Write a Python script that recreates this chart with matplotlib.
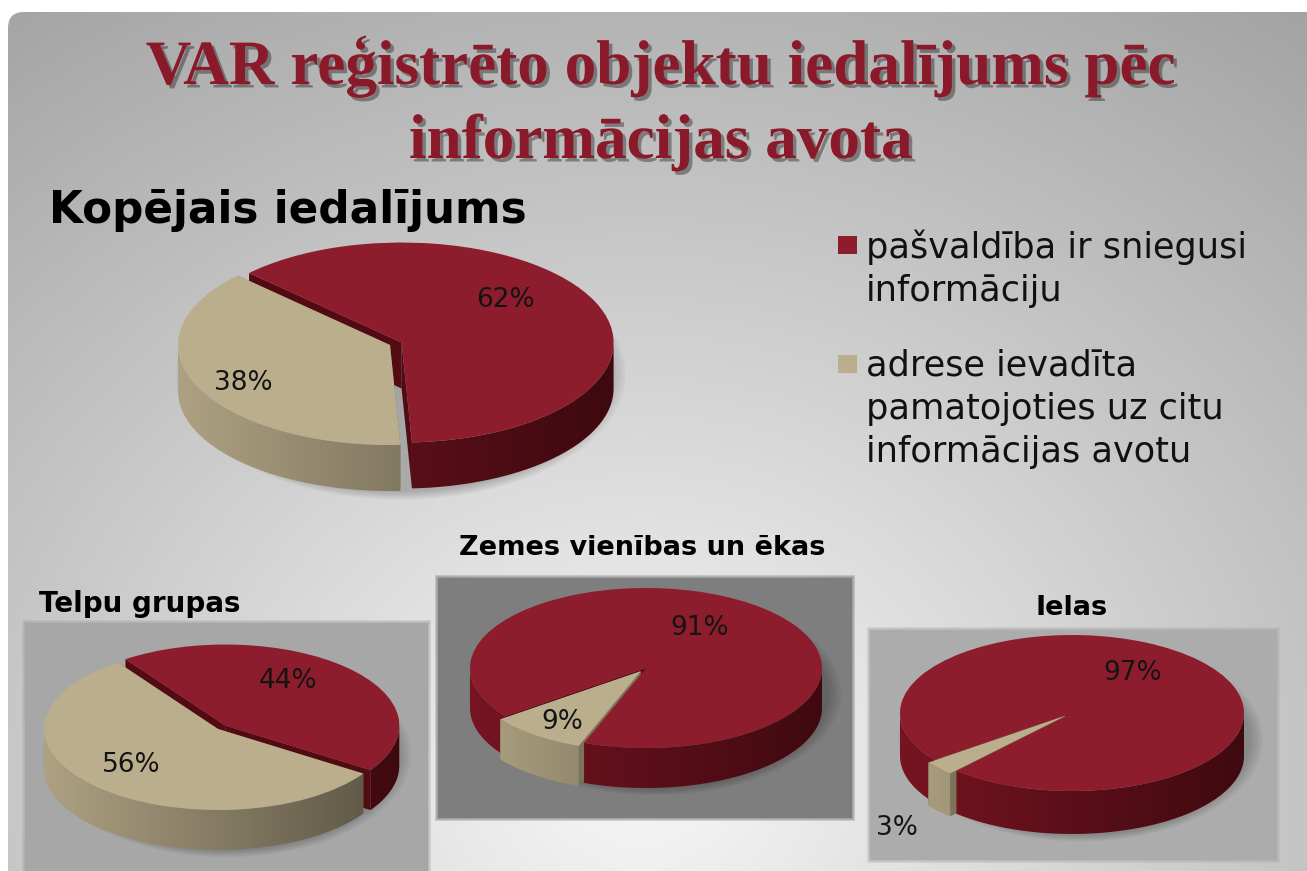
import numpy as np
import matplotlib
matplotlib.use("Agg")
import matplotlib.pyplot as plt
from matplotlib.path import Path
from matplotlib.patches import FancyBboxPatch, Rectangle, Ellipse, PathPatch
import matplotlib.patheffects as pe
from matplotlib.colors import to_rgb

# ---------------- data ----------------
series_labels = ["pašvaldība ir sniegusi\ninformāciju",
                 "adrese ievadīta\npamatojoties uz citu\ninformācijas avotu"]
chart_titles = ["Kopējais iedalījums", "Telpu grupas",
                "Zemes vienības un ēkas", "Ielas"]
share_municipality = [62, 44, 91, 97]   # %
share_other = [38, 56, 9, 3]            # %
main_title = ["VAR reģistrēto objektu iedalījums pēc", "informācijas avota"]

# ---------------- style ----------------
RED = "#8d1d2d"
BEIGE = "#bbae8d"
RED_SIDE = ("#7a1522", "#3c090f")
BEIGE_SIDE = ("#b3a686", "#565040")
CUT_COLS = ["#520b13", "#7d735a"]
TITLE_RED = "#8a1a2a"

W, H = 1307, 871
fig = plt.figure(figsize=(W / 100, H / 100), dpi=100)
fig.patch.set_facecolor("white")

# background axes in pixel coordinates
bg = fig.add_axes([0, 0, 1, 1])
bg.axis("off")
yy, xx = np.mgrid[0:H, 0:W]
rr = np.sqrt(((xx - 640) / 950) ** 2 + ((yy - 780) / 820) ** 2)
val = np.clip(247 - 72 * rr, 0, 255) / 255
bgimg = bg.imshow(np.dstack([val, val, val]), extent=(0, W, H, 0), zorder=0,
                  aspect="auto")
frame = FancyBboxPatch((8, 12), W + 30, H + 30,
                       boxstyle="round,pad=0,rounding_size=16",
                       facecolor="none", edgecolor="none")
bg.add_patch(frame)
bgimg.set_clip_path(frame)
bg.set_xlim(0, W)
bg.set_ylim(H, 0)

# gray panels behind the small pies (x0, y0, x1, y1, colour)
panels = [(25, 623, 428, 885, "#a7a7a7"),
          (438, 578, 852, 818, "#7e7e7e"),
          (870, 630, 1277, 860, "#acacac")]
for x0, y0, x1, y1, c in panels:
    for k in range(3, 0, -1):
        bg.add_patch(Rectangle((x0 - k, y0 - k), x1 - x0 + 2 * k, y1 - y0 + 2 * k,
                               facecolor=c, edgecolor="none", alpha=0.3, zorder=1))
    bg.add_patch(Rectangle((x0, y0), x1 - x0, y1 - y0, facecolor=c,
                           edgecolor="none", zorder=1))

# title
shadow = [pe.withSimplePatchShadow(offset=(2.5, -2.5), shadow_rgbFace="black",
                                   alpha=0.35)]
for txt, yb in zip(main_title, [84, 158]):
    bg.text(661, yb, txt, family="Liberation Serif", weight="bold", size=45.5,
            color=TITLE_RED, ha="center", va="baseline", zorder=5,
            path_effects=shadow)

# section headings
bg.text(49, 223, chart_titles[0], family="DejaVu Sans", weight="bold", size=31.5,
        color="black", va="baseline", zorder=5)
bg.text(39, 612, chart_titles[1], family="DejaVu Sans", weight="bold", size=20,
        color="black", va="baseline", zorder=5)
bg.text(642, 555, chart_titles[2], family="DejaVu Sans", weight="bold", size=19.5,
        color="black", ha="center", va="baseline", zorder=5)
bg.text(1072, 615, chart_titles[3], family="DejaVu Sans", weight="bold", size=19.5,
        color="black", ha="center", va="baseline", zorder=5)

# legend
for lab, col, ytop in zip(series_labels, [RED, BEIGE], [229, 348]):
    bg.add_patch(Rectangle((838, ytop + 7), 19, 18, facecolor=col,
                           edgecolor="none", zorder=5))
    bg.text(866, ytop, lab, family="DejaVu Sans", size=25.3, color="#111111",
            va="top", ha="left", linespacing=1.36, zorder=5)


def gradient(c_left, c_right, n=256):
    l = np.array(to_rgb(c_left))
    r = np.array(to_rgb(c_right))
    t = np.linspace(0, 1, n)[:, None]
    return (l * (1 - t) + r * t)[None, :, :]


def closed_path(verts):
    verts = np.vstack([verts, verts[:1]])
    return Path(verts, closed=True)


def draw_pie(values, geom, start, explode, label_px):
    cx, cy, a, b, depth = geom
    d = depth / b
    pad_x, pad_top, pad_bot = 1.35, 1.35, 1.35 + d
    left, right = cx - pad_x * a, cx + pad_x * a
    top, bottom = cy - pad_top * b, cy + pad_bot * b
    ax = fig.add_axes([left / W, 1 - bottom / H, (right - left) / W,
                       (bottom - top) / H])
    wedges, _, autotexts = ax.pie(
        values, colors=[RED, BEIGE], startangle=start, counterclock=False,
        explode=explode, autopct="%1.0f%%",
        wedgeprops=dict(linewidth=0),
        textprops=dict(family="DejaVu Sans", size=19, color="#141414"))
    # soft drop shadow
    for k in range(6):
        ax.add_patch(Ellipse((0.05, -d * 0.55 - 0.04), 2.12 - 0.03 * k,
                             2.0 + d * 1.1 - 0.03 * k, facecolor="black",
                             alpha=0.035, edgecolor="none", zorder=0.5))
    side_cols = [RED_SIDE, BEIGE_SIDE]
    for i, w in enumerate(wedges):
        c = np.array(w.center)
        r = w.r
        # radial cut faces (seen through the exploded gaps)
        for t in (w.theta1, w.theta2):
            p = c + r * np.array([np.cos(np.radians(t)), np.sin(np.radians(t))])
            quad = np.array([c, p, p - [0, d], c - [0, d]])
            ax.add_patch(PathPatch(closed_path(quad), facecolor=CUT_COLS[i],
                                   edgecolor="none", zorder=1))
        # outer rim (front half only), shaded with a horizontal gradient
        parts = []
        for k in range(-2, 3):
            lo = max(w.theta1, 180 + 360 * k)
            hi = min(w.theta2, 360 + 360 * k)
            if hi > lo:
                ang = np.radians(np.linspace(lo, hi, 120))
                topv = c + r * np.column_stack([np.cos(ang), np.sin(ang)])
                botv = topv - [0, d]
                parts.append(closed_path(np.vstack([topv, botv[::-1]])))
        if parts:
            comp = Path.make_compound_path(*parts)
            im = ax.imshow(gradient(*side_cols[i]),
                           extent=(-1.12, 1.12, -1.15 - d, 1.15),
                           aspect="auto", zorder=2, interpolation="bilinear")
            im.set_clip_path(comp, ax.transData)
        w.set_zorder(3)
    for t, (px, py) in zip(autotexts, label_px):
        t.set_position(((px - cx) / a, (cy - py) / b))
        t.set_zorder(4)
    ax.set_aspect("auto")
    ax.set_xlim(-pad_x, pad_x)
    ax.set_ylim(-pad_bot, pad_top)
    ax.axis("off")
    return ax


# geometry per pie: centre x, centre y (px), semi-axes (px), depth (px)
geoms = [(390, 345, 212, 100, 46),
         (218, 729, 174, 81, 40),
         (646, 668, 176, 80, 40),
         (1072, 713, 172, 78, 43)]
starts = [136, 125, 217, 217]
explodes = [(0.06, 0), (0.06, 0), (0, 0.05), (0, 0.05)]
label_positions = [[(505, 300), (243, 383)],
                   [(288, 681), (131, 765)],
                   [(700, 628), (562, 722)],
                   [(1133, 673), (897, 828)]]

for i in range(4):
    draw_pie([share_municipality[i], share_other[i]], geoms[i], starts[i],
             explodes[i], label_positions[i])

fig.savefig("out.png", dpi=100, facecolor=fig.get_facecolor())
